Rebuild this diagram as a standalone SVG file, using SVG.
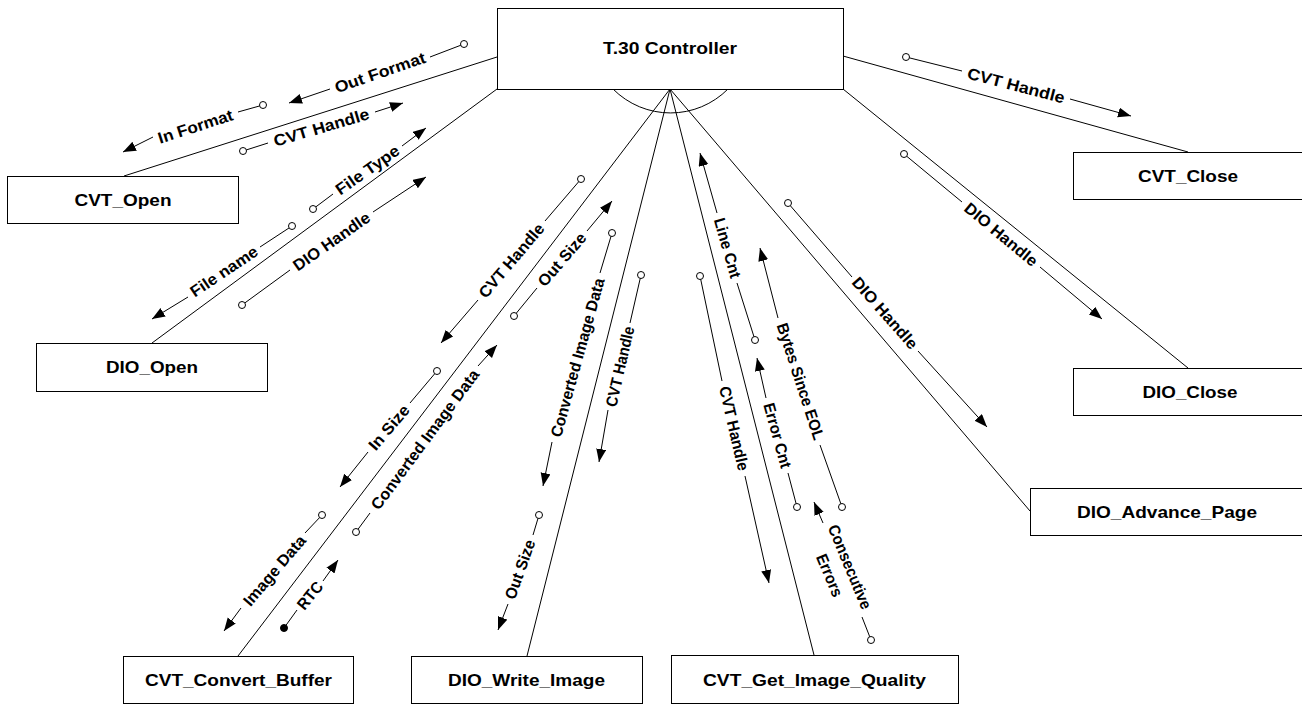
<svg xmlns="http://www.w3.org/2000/svg" width="1302" height="704" viewBox="0 0 1302 704">
<style>
.box{fill:#fff;stroke:#000;stroke-width:1}
.bl{font-family:"Liberation Sans",Arial,sans-serif;font-weight:bold;font-size:16.5px;text-anchor:middle;fill:#000}
.ln{stroke:#000;stroke-width:1;fill:none}
.cl{font-family:"Liberation Sans",Arial,sans-serif;font-weight:bold;font-size:16px;text-anchor:middle;fill:#000}
.dc{fill:#fff;stroke:#000;stroke-width:1}
.cc{fill:#000;stroke:#000;stroke-width:1}
.ar{stroke:#000;stroke-width:1;marker-end:url(#ah)}
</style>
<defs>
<marker id="ah" markerUnits="userSpaceOnUse" markerWidth="15" markerHeight="11" refX="13" refY="5" orient="auto"><path d="M0,0 L13,5 L0,10 z" fill="#000"/></marker>
</defs>
<rect width="1302" height="704" fill="#fff"/>

<g id="connectors">
<line class="ln" x1="497" y1="57" x2="124" y2="176"/>
<line class="ln" x1="497" y1="89" x2="152" y2="343"/>
<line class="ln" x1="843" y1="56" x2="1188" y2="152"/>
<line class="ln" x1="843" y1="89" x2="1188" y2="368"/>
<line class="ln" x1="670" y1="89" x2="238" y2="656"/>
<line class="ln" x1="670" y1="89" x2="527" y2="656"/>
<line class="ln" x1="670" y1="89" x2="814" y2="655"/>
<line class="ln" x1="670" y1="89" x2="1030" y2="511"/>
<path class="ln" d="M613,89 A81,81 0 0 0 728,89"/>
</g>

<g id="couples">
<g><line class="ln" x1="464" y1="44" x2="430" y2="57"/><line class="ar" x1="330" y1="89" x2="289" y2="103"/><circle class="dc" cx="464" cy="44" r="3.5"/><text class="cl" transform="translate(380,72.5) rotate(-19)" y="5.5" textLength="95" lengthAdjust="spacingAndGlyphs">Out Format</text></g>
<g><line class="ln" x1="263" y1="105" x2="238" y2="112"/><line class="ar" x1="153" y1="137" x2="123" y2="152"/><circle class="dc" cx="263" cy="105" r="3.5"/><text class="cl" transform="translate(195.5,126.5) rotate(-18)" y="5.5" textLength="78" lengthAdjust="spacingAndGlyphs">In Format</text></g>
<g><line class="ln" x1="243" y1="151" x2="268" y2="143"/><line class="ar" x1="375" y1="112" x2="403" y2="103"/><circle class="dc" cx="243" cy="151" r="3.5"/><text class="cl" transform="translate(321.5,127.5) rotate(-16.5)" y="5.5" textLength="99" lengthAdjust="spacingAndGlyphs">CVT Handle</text></g>
<g><line class="ln" x1="313" y1="209" x2="333" y2="194"/><line class="ar" x1="402" y1="146" x2="426" y2="128"/><circle class="dc" cx="313" cy="209" r="3.5"/><text class="cl" transform="translate(367.5,170) rotate(-35)" y="5.5" textLength="74" lengthAdjust="spacingAndGlyphs">File Type</text></g>
<g><line class="ln" x1="242" y1="305" x2="290" y2="270"/><line class="ar" x1="373" y1="212" x2="426" y2="177"/><circle class="dc" cx="242" cy="305" r="3.5"/><text class="cl" transform="translate(331.5,241.5) rotate(-35)" y="5.5" textLength="90" lengthAdjust="spacingAndGlyphs">DIO Handle</text></g>
<g><line class="ln" x1="292" y1="226" x2="260" y2="247"/><line class="ar" x1="188" y1="297" x2="152" y2="319"/><circle class="dc" cx="292" cy="226" r="3.5"/><text class="cl" transform="translate(224,271.5) rotate(-34)" y="5.5" textLength="78" lengthAdjust="spacingAndGlyphs">File name</text></g>

<g><line class="ln" x1="581" y1="179" x2="545" y2="221"/><line class="ar" x1="478" y1="300" x2="441" y2="343"/><circle class="dc" cx="581" cy="179" r="3.5"/><text class="cl" transform="translate(511.5,260.5) rotate(-49.7)" y="5.5" textLength="92" lengthAdjust="spacingAndGlyphs">CVT Handle</text></g>
<g><line class="ln" x1="514" y1="316" x2="537" y2="288"/><line class="ar" x1="587" y1="231" x2="612" y2="201"/><circle class="dc" cx="514" cy="316" r="3.5"/><text class="cl" transform="translate(562,259.5) rotate(-49.5)" y="5.5" textLength="65" lengthAdjust="spacingAndGlyphs">Out Size</text></g>
<g><line class="ln" x1="437" y1="371" x2="410" y2="403"/><line class="ar" x1="368" y1="452" x2="340" y2="487"/><circle class="dc" cx="437" cy="371" r="3.5"/><text class="cl" transform="translate(389,427.5) rotate(-49.5)" y="5.5" textLength="54" lengthAdjust="spacingAndGlyphs">In Size</text></g>
<g><line class="ln" x1="356" y1="532" x2="370" y2="513"/><line class="ar" x1="478" y1="366" x2="497" y2="345"/><circle class="dc" cx="356" cy="532" r="3.5"/><text class="cl" transform="translate(425,439.5) rotate(-53.5)" y="5.5" textLength="170" lengthAdjust="spacingAndGlyphs">Converted Image Data</text></g>
<g><line class="ln" x1="322" y1="515" x2="305" y2="533"/><line class="ar" x1="241" y1="608" x2="224" y2="631"/><circle class="dc" cx="322" cy="515" r="3.5"/><text class="cl" transform="translate(274.5,570.5) rotate(-49.5)" y="5.5" textLength="87" lengthAdjust="spacingAndGlyphs">Image Data</text></g>
<g><line class="ln" x1="284" y1="628" x2="297" y2="610"/><line class="ar" x1="323" y1="581" x2="338" y2="560"/><circle class="cc" cx="284" cy="628" r="3.5"/><text class="cl" transform="translate(310,595.5) rotate(-51)" y="5.5" textLength="31" lengthAdjust="spacingAndGlyphs">RTC</text></g>

<g><line class="ln" x1="612" y1="233" x2="600" y2="273"/><line class="ar" x1="552" y1="442" x2="543" y2="486"/><circle class="dc" cx="612" cy="233" r="3.5"/><text class="cl" transform="translate(577.5,357.5) rotate(-74.5)" y="5.5" textLength="164" lengthAdjust="spacingAndGlyphs">Converted Image Data</text></g>
<g><line class="ln" x1="641" y1="275" x2="630" y2="323"/><line class="ar" x1="608" y1="410" x2="599" y2="462"/><circle class="dc" cx="641" cy="275" r="3.5"/><text class="cl" transform="translate(620,366.5) rotate(-77)" y="5.5" textLength="82" lengthAdjust="spacingAndGlyphs">CVT Handle</text></g>
<g><line class="ln" x1="539" y1="515" x2="533" y2="535"/><line class="ar" x1="508" y1="604" x2="498" y2="630"/><circle class="dc" cx="539" cy="515" r="3.5"/><text class="cl" transform="translate(520,569.5) rotate(-70.5)" y="5.5" textLength="62" lengthAdjust="spacingAndGlyphs">Out Size</text></g>

<g><line class="ln" x1="755" y1="340" x2="737" y2="283"/><line class="ar" x1="717" y1="213" x2="700" y2="153"/><circle class="dc" cx="755" cy="340" r="3.5"/><text class="cl" transform="translate(727.5,248) rotate(74)" y="5.5" textLength="62" lengthAdjust="spacingAndGlyphs">Line Cnt</text></g>
<g><line class="ln" x1="842" y1="507" x2="820" y2="445"/><line class="ar" x1="778" y1="318" x2="760" y2="248"/><circle class="dc" cx="842" cy="507" r="3.5"/><text class="cl" transform="translate(800.5,381.5) rotate(72)" y="5.5" textLength="122" lengthAdjust="spacingAndGlyphs">Bytes Since EOL</text></g>
<g><line class="ln" x1="700" y1="276" x2="722" y2="381"/><line class="ar" x1="745" y1="476" x2="769" y2="583"/><circle class="dc" cx="700" cy="276" r="3.5"/><text class="cl" transform="translate(734,428.5) rotate(77)" y="5.5" textLength="86" lengthAdjust="spacingAndGlyphs">CVT Handle</text></g>
<g><line class="ln" x1="797" y1="507" x2="788" y2="473"/><line class="ar" x1="766" y1="398" x2="757" y2="358"/><circle class="dc" cx="797" cy="507" r="3.5"/><text class="cl" transform="translate(777.5,435.5) rotate(74.5)" y="5.5" textLength="67" lengthAdjust="spacingAndGlyphs">Error Cnt</text></g>
<g><line class="ln" x1="871" y1="640" x2="862" y2="617"/><line class="ar" x1="823" y1="523" x2="814" y2="502"/><circle class="dc" cx="871" cy="640" r="3.5"/><text class="cl" transform="translate(842.5,570) rotate(67.5)"><tspan x="0" y="-2.5" textLength="90" lengthAdjust="spacingAndGlyphs">Consecutive</tspan><tspan x="0" y="19.5" textLength="45" lengthAdjust="spacingAndGlyphs">Errors</tspan></text></g>

<g><line class="ln" x1="906" y1="57" x2="962" y2="71"/><line class="ar" x1="1070" y1="99" x2="1131" y2="116"/><circle class="dc" cx="906" cy="57" r="3.5"/><text class="cl" transform="translate(1016,85.5) rotate(14.6)" y="5.5" textLength="100" lengthAdjust="spacingAndGlyphs">CVT Handle</text></g>
<g><line class="ln" x1="904" y1="154" x2="962" y2="202"/><line class="ar" x1="1040" y1="267" x2="1102" y2="319"/><circle class="dc" cx="904" cy="154" r="3.5"/><text class="cl" transform="translate(1001,234.5) rotate(39.8)" y="5.5" textLength="90" lengthAdjust="spacingAndGlyphs">DIO Handle</text></g>
<g><line class="ln" x1="788" y1="203" x2="852" y2="277"/><line class="ar" x1="918" y1="351" x2="987" y2="427"/><circle class="dc" cx="788" cy="203" r="3.5"/><text class="cl" transform="translate(885,313) rotate(48.5)" y="5.5" textLength="90" lengthAdjust="spacingAndGlyphs">DIO Handle</text></g>
</g>

<g id="t30-controller"><rect class="box" x="497.5" y="8.5" width="346" height="81"/><text class="bl" x="670" y="54" textLength="134" lengthAdjust="spacingAndGlyphs">T.30 Controller</text></g>
<g id="cvt-open"><rect class="box" x="7.5" y="176.5" width="231" height="47"/><text class="bl" x="123" y="205.5" textLength="97" lengthAdjust="spacingAndGlyphs">CVT_Open</text></g>
<g id="dio-open"><rect class="box" x="36.5" y="343.5" width="231" height="48"/><text class="bl" x="152" y="373" textLength="92" lengthAdjust="spacingAndGlyphs">DIO_Open</text></g>
<g id="cvt-close"><rect class="box" x="1073.5" y="152.5" width="240" height="47"/><text class="bl" x="1188" y="182" textLength="100" lengthAdjust="spacingAndGlyphs">CVT_Close</text></g>
<g id="dio-close"><rect class="box" x="1073.5" y="368.5" width="240" height="47"/><text class="bl" x="1190" y="397.5" textLength="95" lengthAdjust="spacingAndGlyphs">DIO_Close</text></g>
<g id="dio-advance-page"><rect class="box" x="1030.5" y="488.5" width="280" height="47"/><text class="bl" x="1167" y="517.5" textLength="180" lengthAdjust="spacingAndGlyphs">DIO_Advance_Page</text></g>
<g id="cvt-convert-buffer"><rect class="box" x="123.5" y="656.5" width="230" height="47"/><text class="bl" x="238.5" y="686" textLength="187" lengthAdjust="spacingAndGlyphs">CVT_Convert_Buffer</text></g>
<g id="dio-write-image"><rect class="box" x="411.5" y="656.5" width="231" height="47"/><text class="bl" x="526.5" y="686" textLength="157" lengthAdjust="spacingAndGlyphs">DIO_Write_Image</text></g>
<g id="cvt-get-image-quality"><rect class="box" x="671.5" y="655.5" width="287" height="48"/><text class="bl" x="814.5" y="685.5" textLength="223" lengthAdjust="spacingAndGlyphs">CVT_Get_Image_Quality</text></g>
</svg>
